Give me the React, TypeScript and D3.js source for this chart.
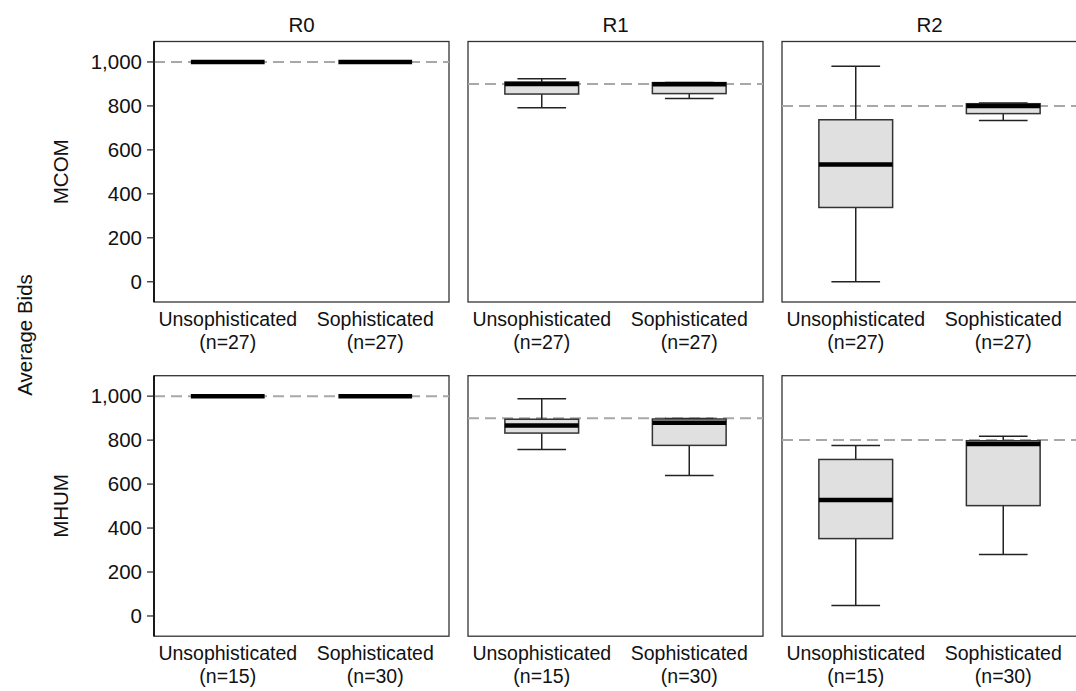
import React from "react";
import * as d3 from "d3";

const rounds = ["R0", "R1", "R2"];
const markets = ["MCOM", "MHUM"];
const groups = ["Unsophisticated", "Sophisticated"];
const groupN = [
  ["(n=27)", "(n=27)"],
  ["(n=15)", "(n=30)"],
];
const referenceBids = [1000, 900, 800];
const yTicks = [0, 200, 400, 600, 800, 1000];

// [low, q1, median, q3, high] per market -> round -> group
const mcomStats = [
  [[1000, 1000, 1000, 1000, 1000], [1000, 1000, 1000, 1000, 1000]],
  [[792, 854, 900, 908, 924], [834, 856, 899, 906, 906]],
  [[0, 338, 534, 737, 980], [734, 765, 800, 810, 813]],
];
const mhumStats = [
  [[1000, 1000, 1000, 1000, 1000], [1000, 1000, 1000, 1000, 1000]],
  [[757, 832, 866, 895, 988], [639, 776, 879, 896, 898]],
  [[48, 352, 528, 712, 775], [280, 502, 782, 797, 817]],
];
const allStats = [mcomStats, mhumStats];

const W = 1076;
const H = 691;
const colLeft = [154, 468, 782];
const panelW = 295;
const rowTop = [41.5, 375.7];
const panelH = 260.5;
const yDomain = [-92, 1093];

const FONT = "'Liberation Sans', Arial, Helvetica, sans-serif";

function T({ x, y, children, size = 20.5, anchor = "middle", rotate = 0 }: any) {
  const tr = rotate ? `translate(${x},${y}) rotate(${rotate})` : `translate(${x},${y})`;
  return (
    <text transform={tr} textAnchor={anchor} fontFamily={FONT} fontSize={size} fill="#111">
      {children}
    </text>
  );
}

export default function App() {
  const x = d3.scalePoint<string>().domain(groups).range([0, panelW]).padding(0.5);
  const step = x.step();
  const boxW = step * 0.5;
  const capW = boxW * 0.66;

  return (
    <svg width={W} height={H} style={{ position: "absolute", left: 0, top: 0, background: "#fff" }}>
      {rounds.map((r, ci) => (
        <T key={"t" + r} x={colLeft[ci] + panelW / 2} y={32}>
          {r}
        </T>
      ))}
      <T x={31.5} y={335} rotate={-90}>
        Average Bids
      </T>
      {markets.map((m, ri) => {
        const y = d3.scaleLinear().domain(yDomain).range([rowTop[ri] + panelH, rowTop[ri]]);
        return (
          <g key={m}>
            <T x={68} y={rowTop[ri] + panelH / 2} rotate={-90}>
              {m}
            </T>
            {rounds.map((r, ci) => {
              const left = colLeft[ci];
              const stats = allStats[ri][ci];
              return (
                <g key={r}>
                  <rect x={left} y={rowTop[ri]} width={panelW} height={panelH} fill="#fff" stroke="#333" strokeWidth={1.3} />
                  <line
                    x1={left}
                    x2={left + panelW}
                    y1={y(referenceBids[ci])}
                    y2={y(referenceBids[ci])}
                    stroke="#a8a8a8"
                    strokeWidth={2}
                    strokeDasharray="11,6"
                  />
                  {groups.map((g, gi) => {
                    const [lo, q1, med, q3, hi] = stats[gi];
                    const cx = left + (x(g) as number);
                    return (
                      <g key={g}>
                        <line x1={cx} x2={cx} y1={y(hi)} y2={y(q3)} stroke="#222" strokeWidth={1.5} />
                        <line x1={cx} x2={cx} y1={y(q1)} y2={y(lo)} stroke="#222" strokeWidth={1.5} />
                        <line x1={cx - capW / 2} x2={cx + capW / 2} y1={y(hi)} y2={y(hi)} stroke="#222" strokeWidth={1.5} />
                        <line x1={cx - capW / 2} x2={cx + capW / 2} y1={y(lo)} y2={y(lo)} stroke="#222" strokeWidth={1.5} />
                        <rect
                          x={cx - boxW / 2}
                          y={y(q3)}
                          width={boxW}
                          height={Math.max(0, y(q1) - y(q3))}
                          fill="#e0e0e0"
                          stroke="#333"
                          strokeWidth={1.5}
                        />
                        <line x1={cx - boxW / 2} x2={cx + boxW / 2} y1={y(med)} y2={y(med)} stroke="#000" strokeWidth={4.5} />
                        <T x={cx} y={rowTop[ri] + panelH + 24} size={19.5}>
                          {g}
                        </T>
                        <T x={cx} y={rowTop[ri] + panelH + 46.5} size={19.5}>
                          {groupN[ri][gi]}
                        </T>
                      </g>
                    );
                  })}
                </g>
              );
            })}
            <line x1={colLeft[0]} x2={colLeft[0]} y1={rowTop[ri]} y2={rowTop[ri] + panelH} stroke="#000" strokeWidth={1.6} />
            {yTicks.map((t) => (
              <g key={t}>
                <line x1={colLeft[0] - 7} x2={colLeft[0]} y1={y(t)} y2={y(t)} stroke="#222" strokeWidth={1.2} />
                <T x={colLeft[0] - 12} y={y(t) + 7} anchor="end">
                  {d3.format(",")(t)}
                </T>
              </g>
            ))}
          </g>
        );
      })}
    </svg>
  );
}
